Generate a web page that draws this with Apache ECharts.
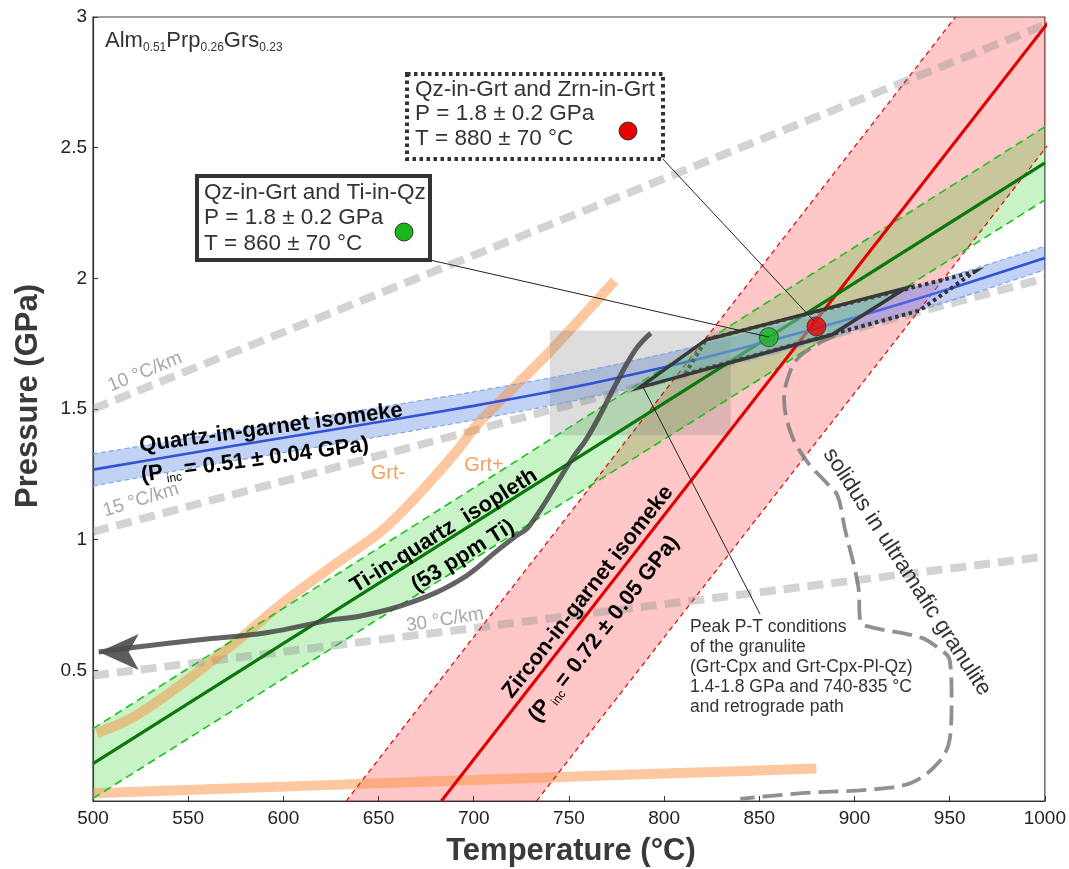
<!DOCTYPE html>
<html>
<head>
<meta charset="utf-8">
<title>P-T diagram</title>
<script src="https://cdn.jsdelivr.net/npm/echarts@6/dist/echarts.min.js"></script>
<style>
  html, body { margin: 0; padding: 0; background: #fff; }
  #chart { width: 1069px; height: 869px; }
</style>
</head>
<body>
<div id="chart"></div>
<script>
// ---------------------------------------------------------------------------
// Values: T in °C, P in GPa
// ---------------------------------------------------------------------------
const tempRange = [500, 1000];
const presRange = [0, 3];

// geotherms
const geotherm10 = [[500, 1.50], [1000, 2.97]];
const geotherm15 = [[500, 1.03], [1000, 2.00]];
const geotherm30 = [[500, 0.48], [1000, 0.935]];

// quartz-in-garnet isomeke (Pinc = 0.51 ± 0.04 GPa)
const qzCenter = [[500, 1.268], [550, 1.33], [600, 1.39], [650, 1.45], [700, 1.512], [750, 1.58],
  [800, 1.66], [850, 1.75], [900, 1.85], [950, 1.96], [1000, 2.078]];
const qzUpper = [[500, 1.328], [550, 1.388], [600, 1.447], [650, 1.506], [700, 1.566], [750, 1.633],
  [800, 1.711], [850, 1.80], [900, 1.898], [950, 2.007], [1000, 2.123]];
const qzLower = [[500, 1.205], [550, 1.272], [600, 1.333], [650, 1.394], [700, 1.458], [750, 1.527],
  [800, 1.609], [850, 1.70], [900, 1.802], [950, 1.913], [1000, 2.033]];

// Ti-in-quartz isopleth (53 ppm Ti)
const tiCenter = [[500, 0.143], [1000, 2.442]];
const tiUpper = [[500, 0.277], [1000, 2.58]];
const tiLower = [[500, 0.01], [1000, 2.30]];

// zircon-in-garnet isomeke (Pinc = 0.72 ± 0.05 GPa)
const zrnCenter = [[683, 0], [1004, 3]];
const zrnLeft = [[633, 0], [953, 3]];
const zrnRight = [[733, 0], [1054, 3]];

// garnet-out reactions
const grtLine = [[502, 0.26], [521, 0.32], [549, 0.46], [577, 0.62], [600, 0.76], [626, 0.90],
  [651, 1.03], [668, 1.15], [690, 1.33], [703, 1.45], [740, 1.72], [774, 1.99]];
const grtLowLine = [[500, 0.03], [600, 0.055], [700, 0.08], [800, 0.105], [880, 0.124]];

// retrograde path, from peak down to the arrow tip
const retroPath = [[793, 1.79], [785, 1.727], [775, 1.60], [767, 1.486], [759, 1.383], [752, 1.313],
  [729, 1.05], [722, 1.013], [713, 0.962], [693, 0.847], [666, 0.757], [640, 0.707], [626, 0.694],
  [591, 0.644], [556, 0.617], [521, 0.587], [503, 0.57]];

// solidus in ultramafic granulite
const solidus = [[890, 1.78], [881, 1.75], [871, 1.70], [866, 1.64], [863, 1.54], [867, 1.40],
  [876, 1.29], [885, 1.22], [891, 1.17], [895, 1.04], [902, 0.82], [903, 0.69], [906, 0.67],
  [935, 0.625], [944, 0.585], [950, 0.54], [951, 0.39], [950, 0.235], [944, 0.146], [930, 0.07],
  [909, 0.044], [874, 0.031], [840, 0.008]];

// peak conditions of the granulite (740-835 °C, 1.4-1.8 GPa)
const peakBox = [[740, 1.4], [835, 1.4], [835, 1.8], [740, 1.8]];
// intersections
const peakQzTi = [[787, 1.582], [822, 1.765], [927, 1.963], [888, 1.784]];
const peakQzZrn = [[811, 1.634], [822, 1.765], [963, 2.025], [934, 1.876]];
const estQzTi = [855, 1.775];
const estQzZrn = [880, 1.816];

// ---------------------------------------------------------------------------
const FONT = "'Liberation Sans', Arial, Helvetica, sans-serif";
const TEXT = '#333';

function polygonSeries(pts, style, z) {
  return {
    type: 'custom', coordinateSystem: 'cartesian2d', clip: true, silent: true, z: z,
    data: [0],
    renderItem: function (params, api) {
      return { type: 'polygon', shape: { points: pts.map(p => api.coord(p)) }, style: style };
    },
  };
}

function bandSeries(upper, lower, fill, z) {
  return polygonSeries(upper.concat(lower.slice().reverse()), { fill: fill }, z);
}

function lineSeries(pts, color, width, type, z, extra) {
  return Object.assign({
    type: 'line', data: pts, showSymbol: false, symbol: 'none', silent: true, z: z,
    lineStyle: { color: color, width: width, type: type, cap: 'butt' },
  }, extra || {});
}

function text(str, x, y, size, opts) {
  opts = opts || {};
  return {
    type: 'text', x: x, y: y, z: 100, rotation: opts.rotation || 0, silent: true,
    style: {
      text: str, fill: opts.color || TEXT, fontSize: size, fontFamily: FONT,
      fontWeight: opts.bold ? 'bold' : 'normal',
      align: opts.align || 'center', verticalAlign: 'middle',
      lineHeight: opts.lineHeight, rich: opts.rich,
    },
  };
}

function subRich(size, subSize, bold) {
  const w = bold ? 'bold' : 'normal';
  return {
    a: { fontSize: size, fontFamily: FONT, fontWeight: w, fill: '#000', lineHeight: size + 4 },
    s: { fontSize: subSize, fontFamily: FONT, fill: '#000', lineHeight: subSize + 2,
         verticalAlign: 'bottom', padding: [0, 3, 0, 3] },
  };
}

const geoStyle = 'rgba(150,150,150,0.42)';
const geoDash = [16, 8];

const series = [
  // band fills
  bandSeries(zrnLeft, zrnRight, 'rgba(255,0,0,0.22)', 1),
  bandSeries(tiUpper, tiLower, 'rgba(0,200,0,0.22)', 2),
  bandSeries(qzUpper, qzLower, 'rgba(50,105,220,0.3)', 3),
  // geotherms
  lineSeries(geotherm10, geoStyle, 8, geoDash, 4),
  lineSeries(geotherm15, geoStyle, 8, geoDash, 4),
  lineSeries(geotherm30, geoStyle, 8, geoDash, 4),
  // garnet reactions
  lineSeries(grtLine, 'rgba(250,140,55,0.48)', 10, 'solid', 5, { smooth: 0.3 }),
  lineSeries(grtLowLine, 'rgba(250,140,55,0.48)', 10, 'solid', 5, { smooth: 0.3 }),
  // peak P-T box
  polygonSeries(peakBox, { fill: 'rgba(120,120,120,0.25)' }, 6),
  // band borders and centres
  lineSeries(zrnLeft, '#e60000', 1.2, [5, 4], 7),
  lineSeries(zrnRight, '#e60000', 1.2, [5, 4], 7),
  lineSeries(tiUpper, '#1cc01c', 1.6, [8, 5], 7),
  lineSeries(tiLower, '#1cc01c', 1.6, [8, 5], 7),
  lineSeries(qzUpper, '#80a6e6', 1.2, [5, 3], 7, { smooth: 0.3 }),
  lineSeries(qzLower, '#80a6e6', 1.2, [5, 3], 7, { smooth: 0.3 }),
  lineSeries(zrnCenter, '#e00000', 3, 'solid', 8),
  lineSeries(tiCenter, '#0b760b', 3.2, 'solid', 8),
  lineSeries(qzCenter, '#2f52d6', 2.6, 'solid', 8, { smooth: 0.3 }),
  // solidus
  lineSeries(solidus, 'rgba(125,125,125,0.85)', 3.8, [20, 8], 8, { smooth: 0.35 }),
  // retrograde path with arrow head at its last point
  lineSeries(retroPath.map((p, i) => i === retroPath.length - 1
    ? { value: p, symbol: 'arrow', symbolSize: [27, 40], symbolRotate: 90 }
    : { value: p }), 'rgba(65,65,65,0.82)', 5, 'solid', 9, {
      smooth: 0.4, showSymbol: true, symbol: 'none',
      itemStyle: { color: 'rgba(75,75,75,0.9)' },
    }),
  // intersection polygons
  polygonSeries(peakQzZrn, { fill: 'rgba(160,150,255,0.25)', stroke: '#333', lineWidth: 4, lineDash: [3.5, 3.5] }, 10),
  polygonSeries(peakQzTi, { fill: 'rgba(120,230,150,0.3)', stroke: '#383838', lineWidth: 3.5, lineJoin: 'miter' }, 11),
  // estimates
  { type: 'scatter', data: [estQzTi], symbolSize: 19, z: 12, silent: true,
    itemStyle: { color: '#1ab51a', borderColor: '#333', borderWidth: 1 } },
  { type: 'scatter', data: [estQzZrn], symbolSize: 19, z: 12, silent: true,
    itemStyle: { color: '#e60000', borderColor: '#333', borderWidth: 1 } },
];

const graphic = [
  // leader lines
  { type: 'line', z: 90, shape: { x1: 430, y1: 260, x2: 769, y2: 337 }, style: { stroke: '#222', lineWidth: 1 } },
  { type: 'line', z: 90, shape: { x1: 661, y1: 157, x2: 814, y2: 321 }, style: { stroke: '#222', lineWidth: 1 } },
  { type: 'line', z: 90, shape: { x1: 643, y1: 387, x2: 760, y2: 614 }, style: { stroke: '#222', lineWidth: 1 } },
  // boxes
  { type: 'rect', z: 95, shape: { x: 197, y: 176, width: 233, height: 84 },
    style: { fill: '#fff', stroke: '#333', lineWidth: 4 } },
  { type: 'rect', z: 95, shape: { x: 407, y: 74, width: 256, height: 85 },
    style: { fill: '#fff', stroke: '#333', lineWidth: 4, lineDash: [3.5, 3.5] } },
  text('Qz-in-Grt and Ti-in-Qz\nP = 1.8 ± 0.2 GPa\nT = 860 ± 70 °C', 204, 218, 22.5, { align: 'left', lineHeight: 25.5 }),
  text('Qz-in-Grt and Zrn-in-Grt\nP = 1.8 ± 0.2 GPa\nT = 880 ± 70 °C', 415, 114, 22.5, { align: 'left', lineHeight: 24.5 }),
  { type: 'circle', z: 100, shape: { cx: 404, cy: 232, r: 9 }, style: { fill: '#1ab51a', stroke: '#333', lineWidth: 1 } },
  { type: 'circle', z: 100, shape: { cx: 628, cy: 131, r: 9 }, style: { fill: '#e60000', stroke: '#333', lineWidth: 1 } },
  // composition
  text('{m|Alm}{s|0.51}{m|Prp}{s|0.26}{m|Grs}{s|0.23}', 105, 41, 22, {
    align: 'left',
    rich: {
      m: { fontSize: 22, fontFamily: FONT, fill: TEXT, lineHeight: 26 },
      s: { fontSize: 12, fontFamily: FONT, fill: TEXT, lineHeight: 14, verticalAlign: 'bottom' },
    },
  }),
  // geotherm labels
  text('10 °C/km', 145, 372, 19, { color: '#a8a8a8', rotation: 22 * Math.PI / 180 }),
  text('15 °C/km', 141, 500, 19, { color: '#a8a8a8', rotation: 17 * Math.PI / 180 }),
  text('30 °C/km', 445, 620, 19, { color: '#a8a8a8', rotation: 9 * Math.PI / 180 }),
  // garnet labels
  text('Grt-', 388, 473, 20, { color: '#f5a062' }),
  text('Grt+', 484, 465, 20, { color: '#f5a062' }),
  // isomeke / isopleth labels
  text('Quartz-in-garnet isomeke', 271, 428, 22, { bold: true, color: '#000', rotation: 7.7 * Math.PI / 180 }),
  text('{a|(P}{s|inc}{a|= 0.51 ± 0.04 GPa)}', 255, 460, 22, {
    bold: true, rotation: 7.7 * Math.PI / 180, rich: subRich(22, 12, true),
  }),
  text('Ti-in-quartz  isopleth', 444, 531, 22, { bold: true, color: '#000', rotation: 32 * Math.PI / 180 }),
  text('(53 ppm Ti)', 463, 556, 22, { bold: true, color: '#000', rotation: 32 * Math.PI / 180 }),
  text('Zircon-in-garnet isomeke', 588, 592, 22, { bold: true, color: '#000', rotation: 52 * Math.PI / 180 }),
  text('{a|(P}{s|inc}{a|= 0.72 ± 0.05 GPa)}', 604, 629, 22, {
    bold: true, rotation: 52 * Math.PI / 180, rich: subRich(22, 12, true),
  }),
  text('solidus in ultramafic granulite', 907, 572, 22.5, { rotation: -57 * Math.PI / 180 }),
  // peak annotation
  text('Peak P-T conditions\nof the granulite\n(Grt-Cpx and Grt-Cpx-Pl-Qz)\n1.4-1.8 GPa and 740-835 °C\nand retrograde path',
    690, 667, 17.5, { align: 'left', lineHeight: 20 }),
  // axis titles
  text('Temperature (°C)', 571, 851, 31, { bold: true, color: '#3a3a3a' }),
  text('Pressure (GPa)', 28, 396, 31, { bold: true, color: '#3a3a3a', rotation: Math.PI / 2 }),
];

const chart = echarts.init(document.getElementById('chart'), null, { renderer: 'canvas' });
chart.setOption({
  animation: false,
  backgroundColor: '#fff',
  grid: { left: 93, right: 23, top: 17, bottom: 68, show: true, borderColor: '#444', borderWidth: 1.2 },
  xAxis: {
    type: 'value', min: tempRange[0], max: tempRange[1], interval: 50,
    axisLine: { lineStyle: { color: '#333', width: 1.2 } },
    axisTick: { inside: true, length: 5, lineStyle: { color: '#333' } },
    axisLabel: { fontSize: 19, color: '#222', fontFamily: FONT, margin: 8,
      formatter: v => String(v) },
    splitLine: { show: false },
  },
  yAxis: {
    type: 'value', min: presRange[0], max: presRange[1], interval: 0.5,
    axisLine: { show: true, lineStyle: { color: '#333', width: 1.2 } },
    axisTick: { show: true, inside: true, length: 5, lineStyle: { color: '#333' } },
    axisLabel: { fontSize: 19, color: '#222', fontFamily: FONT, margin: 6,
      formatter: v => (v === 0 ? '' : String(v)) },
    splitLine: { show: false },
  },
  series: series,
  graphic: graphic,
});
</script>
</body>
</html>
